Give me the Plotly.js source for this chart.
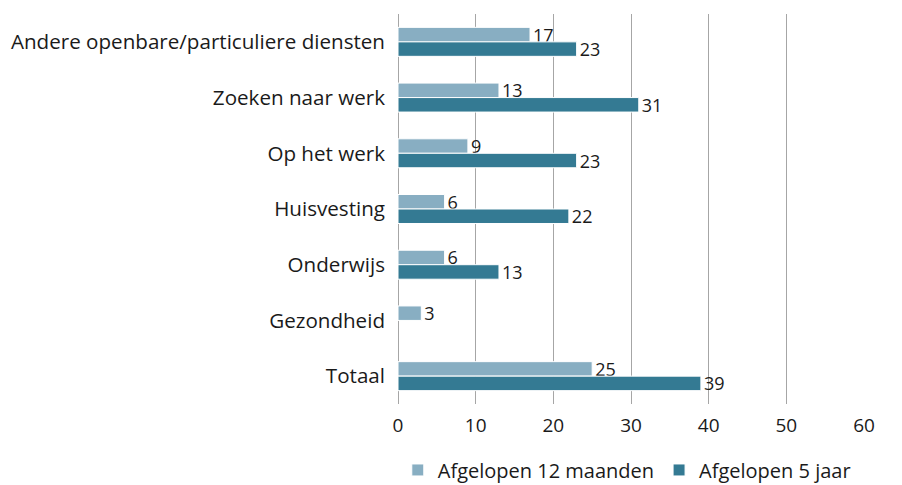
<!DOCTYPE html>
<html><head><meta charset="utf-8">
<script src="https://cdn.plot.ly/plotly-3.0.1.min.js"></script>
<style>html,body{margin:0;padding:0;background:#fff}#chart{width:902px;height:485px}</style>
</head><body><div id="chart"></div>
<script>
const categories = ["Andere openbare/particuliere diensten","Zoeken naar werk","Op het werk","Huisvesting","Onderwijs","Gezondheid","Totaal"];
const months12 = [17,13,9,6,6,3,25];
const years5 = [23,31,23,22,13,null,39];
const seriesNames = ["Afgelopen 12 maanden","Afgelopen 5 jaar"];
const xTicks = [0,10,20,30,40,50,60];

const font = "Open Sans, Noto Sans, sans-serif";
const traces = [
  {type:"bar",orientation:"h",name:seriesNames[0],y:categories,x:months12,
   marker:{color:"#88aec2",line:{color:"#ffffff",width:1}},
   text:months12.map(v=>v==null?"":String(v)),textposition:"outside",cliponaxis:false,constraintext:"none",
   textfont:{family:font,size:18,color:"#1a1a1a"}},
  {type:"bar",orientation:"h",name:seriesNames[1],y:categories,x:years5,
   marker:{color:"#347a93",line:{color:"#ffffff",width:1}},
   text:years5.map(v=>v==null?"":String(v)),textposition:"outside",cliponaxis:false,constraintext:"none",
   textfont:{family:font,size:18,color:"#1a1a1a"}}
];
const layout = {
  width:902,height:485,
  margin:{l:398,r:38,t:14,b:81,autoexpand:false},
  paper_bgcolor:"#fff",plot_bgcolor:"#fff",
  font:{family:font,size:18,color:"#1a1a1a"},
  barmode:"group",bargap:0.48,bargroupgap:0,
  xaxis:{range:[0,60],tickvals:xTicks,ticktext:xTicks.map(String),showgrid:true,gridcolor:"#a6a6a6",gridwidth:1,
         zeroline:true,zerolinecolor:"#a6a6a6",zerolinewidth:1,showline:false,ticks:"",ticklabelstandoff:8,
         tickfont:{family:font,size:19,color:"#1a1a1a"},fixedrange:true},
  yaxis:{autorange:"reversed",showgrid:false,zeroline:false,showline:false,ticks:"",ticklabelstandoff:12,
         tickfont:{family:font,size:20.6,color:"#1a1a1a"}},
  showlegend:true,
  legend:{orientation:"h",xref:"container",yref:"container",x:0.441,xanchor:"left",y:0.031,yanchor:"middle",
          font:{family:font,size:20,color:"#1a1a1a"},tracegroupgap:0}
};
Plotly.newPlot("chart",traces,layout,{displayModeBar:false,staticPlot:true});
</script></body></html>
